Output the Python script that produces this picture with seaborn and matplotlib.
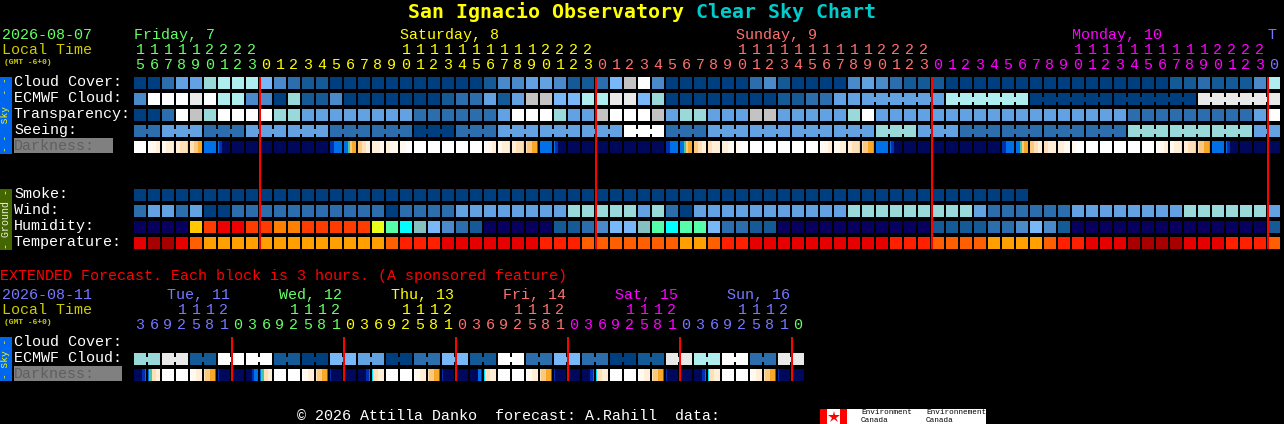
# Clear Sky Chart for San Ignacio Observatory

import seaborn as sns
import matplotlib.pyplot as plt
from matplotlib.colors import ListedColormap
from matplotlib.patches import Rectangle
import numpy as np

# Cell codes, one string per local day (9 + 24 + 24 + 24 + 1 hours)
cloud_cover = ["aaceeghhh", "fdcbbaaaaaaaaaaabddeedbb", "cfikdaaaaaacdbaaaadedcbb", "baaaaaaaaaaaaaaaabbcbbbd", "h"]
ecmwf_cloud = ["dkkkjkhhd", "dagbbdaaaaaaabccebeiiffh", "hjjfgaaaaaaaabbcceeeeeee", "ehhhhhhaaaaaaaaaaaajjjjj", "j"]
transparency = ["aackigkkk", "kggeeeeeeeeccccccekkkgee", "ikkkieggeeeiieeeeegkeeee", "eeeeeeeeeeeeeeccccccccce", "k"]
seeing = ["cceeeccce", "eeeeeccccccaaaccceeeeeee", "eekkkccceeeeeeeeeeeeggge", "eeccccccccccccggggggggge", "e"]
smoke = ["aaaaaaaaa", "aaaaaaaaaaaaaaaaaaaaaaaa", "aaaaaaaaaaaaaaaaaaaaaaaa", "aaaaaaa.................", "."]
wind = ["ceeceaacc", "cccccccccacccceeeeeeeegg", "gggegcaeeeeeeeeeeegggggg", "gggecccccceeeeeeeegggggg", "e"]
humidity = ["nnnnYPRRP", "POOPPPPPVQCtfdcbnnnnnbbc", "dfftQCQQfccbbnnnnnnnnnnn", "bbbbccdfdbnnnnnnnnnnnnnn", "b"]
temperature = ["rDDroAAAA", "AAAAAAAAAosssrrrrrrrssso", "ooooooAAossrrrrrrrrrrsss", "ooooAAAAossrrrDDDDrrrsss", "o"]

# Darkness: six samples across each hour cell
dark_fri = ["WWWWWW", "W11122", "112223", "223334", "334455", "BBBBBB", "BDNNNN", "NNNNNN", "NNNNNN"]
dark_sat = ["NNNNNN", "NNNNNN", "NNNNNN", "NNNNNN", "NNNNNN", "DDBBBB", "BBT455", "443322", "222211", "221111", "111WWW",
            "WWWWWW", "WWWWWW", "WWWWWW", "WWWWWW", "WWWWWW", "W11122", "112223", "223334", "34455B", "BBBBBB", "BDNNNN",
            "NNNNNN", "NNNNNN"]
dark_sun = ["NNNNNN", "NNNNNN", "NNNNNN", "NNNNNN", "NNNNNN", "DDBBBB", "BBT455", "443322", "332222", "222111", "11WWWW",
            "WWWWWW", "WWWWWW", "WWWWWW", "WWWWWW", "WWWWWW", "W11122", "111222", "223334", "34455T", "BBBBBB", "BDNNNN",
            "NNNNNN", "NNNNNN"]
dark_mon = ["NNNNNN", "NNNNNN", "NNNNNN", "NNNNNN", "NNNNNN", "DDBBBB", "BBT455", "443322", "332222", "222111", "11WWWW",
            "WWWWWW", "WWWWWW", "WWWWWW", "WWWWWW", "WWWWWW", "W11122", "112223", "223334", "34455T", "BBBBBB", "BDNNNN",
            "NNNNNN", "NNNNNN"]
dark_tue = ["NNNNNN"]

# Extended forecast, one code per 3 hour block
ext_ecmwf = "ggjjbbkkkkbbaaffeeaaccffbbkkccffccaabbjjhhkkccjj"
ext_darkness = ["NNNNDB", "BT3322", "WWWWWW", "WWWWWW", "W11222", "34455B", "DNNNNN", "NNNNNN",
                "NNNDBB", "BT3322", "WWWWWW", "WWWWWW", "W11222", "34455B", "DNNNNN", "NNNNNN",
                "NNNNDB", "C33222", "WWWWWW", "WWWWWW", "W11222", "34455B", "DNNNNN", "NNNNNN",
                "NNNNBD", "C33222", "WWWWWW", "WWWWWW", "W11222", "34455B", "DNNNNN", "NNNNNN",
                "NNNNDB", "C33222", "WWWWWW", "WWWWWW", "W11222", "34455B", "DNNNNN", "NNNNNN",
                "NNNNDB", "C33222", "WWWWWW", "WWWWWW", "W11222", "34455B", "DNNNNN", "NNNNNN"]

# Hour columns
hours = [15, 16, 17, 18, 19, 20, 21, 22, 23,
         0, 1, 2, 3, 4, 5, 6, 7, 8, 9, 10, 11, 12, 13, 14, 15, 16, 17, 18, 19, 20, 21, 22, 23,
         0, 1, 2, 3, 4, 5, 6, 7, 8, 9, 10, 11, 12, 13, 14, 15, 16, 17, 18, 19, 20, 21, 22, 23,
         0, 1, 2, 3, 4, 5, 6, 7, 8, 9, 10, 11, 12, 13, 14, 15, 16, 17, 18, 19, 20, 21, 22, 23,
         0]
ext_hours = [3, 6, 9, 12, 15, 18, 21, 0, 3, 6, 9, 12, 15, 18, 21, 0, 3, 6, 9, 12, 15, 18, 21, 0,
             3, 6, 9, 12, 15, 18, 21, 0, 3, 6, 9, 12, 15, 18, 21, 0, 3, 6, 9, 12, 15, 18, 21, 0]
day_labels = ["Friday, 7", "Saturday, 8", "Sunday, 9", "Monday, 10", "T"]
ext_day_labels = ["Tue, 11", "Wed, 12", "Thu, 13", "Fri, 14", "Sat, 15", "Sun, 16"]
sky_labels = ["Cloud Cover:", "ECMWF Cloud:", "Transparency:", "Seeing:"]
ground_labels = ["Smoke:", "Wind:", "Humidity:", "Temperature:"]

# Colours
cell_colors = {
    'a': '#003f7f', 'b': '#135a96', 'c': '#2c6dae', 'd': '#4a8aca', 'e': '#63a2e2', 'f': '#78b8f8',
    'g': '#99d9d9', 'h': '#aeeeee', 'i': '#c3c3c3', 'j': '#e9e9e9', 'k': '#ffffff',
    'n': '#08005f', 't': '#84c0c0', 'Q': '#55ffaa', 'C': '#00ffff', 'V': '#e8ff1a', 'Y': '#ffc800',
    'O': '#ff8000', 'P': '#ff3c00', 'R': '#ee0000',
    'D': '#a80000', 'r': '#e60000', 's': '#ff2000', 'o': '#ff5f00', 'A': '#ffa000',
}
dark_colors = {
    'W': '#ffffff', '1': '#fff9f0', '2': '#ffeed8', '3': '#fde0b8', '4': '#fbc880', '5': '#f8a828',
    'T': '#40c8a0', 'C': '#00e0ff', 'B': '#0070e8', 'D': '#0030b0', 'N': '#00085c',
}
GREEN, YELLOW, PINK, MAGENTA, BLUE = '#66ff66', '#ffff00', '#ff7070', '#ff00ff', '#7777ff'
LOCAL = '#cccc00'

W, H = 1284, 424
X0, PITCH = 134, 14

sns.set_theme(style="dark", rc={'figure.facecolor': 'black', 'axes.facecolor': 'black', 'savefig.facecolor': 'black'})
plt.rcParams['font.family'] = 'Liberation Mono'

fig = plt.figure(figsize=(W / 100, H / 100), dpi=100)


def px_axes(x, y, w, h, zorder=1):
    ax = fig.add_axes([x / W, 1 - (y + h) / H, w / W, h / H], zorder=zorder)
    ax.set_axis_off()
    return ax


def lw(pixels):
    return pixels * 72 / 100


def draw_cells(ax, rows, colors):
    """Heatmap of letter codes, '.' stays empty."""
    keys = list(colors)
    codes = np.array([[keys.index(c) if c in colors else np.nan for c in row] for row in rows])
    sns.heatmap(codes, ax=ax, cmap=ListedColormap([colors[k] for k in keys]), vmin=-0.5, vmax=len(keys) - 0.5,
                cbar=False, xticklabels=False, yticklabels=False)
    ax.set_axis_off()


def draw_links(ax, row_pos, codes, blocks, half):
    """Bridge the gap between neighbouring cells of one forecast block."""
    start = 0
    for size in blocks:
        for k in range(start + 1, start + size):
            ax.vlines(k, row_pos - half, row_pos + half, color=cell_colors[codes[k]], lw=lw(2), zorder=5)
        start += size


def label(x, y, s, color='white', size=10.8, **kw):
    kw.setdefault('va', 'center')
    canvas.text(x, y, s, color=color, fontsize=size, **kw)


# Main grid, 16 px per row: 5 sky rows, 2 empty, 4 ground rows
joined = [''.join(r) for r in (cloud_cover, ecmwf_cloud, transparency, seeing)]
blank = '.' * 82
main_rows = joined + [blank, blank, blank] + [''.join(r) for r in (smoke, wind, humidity, temperature)]
main_ax = px_axes(X0 - 1, 75, 82 * PITCH, 11 * 16)
draw_cells(main_ax, main_rows, cell_colors)
main_ax.vlines(range(83), 0, 11, color='black', lw=lw(2), zorder=3)
main_ax.hlines(range(12), 0, 82, color='black', lw=lw(4), zorder=3)

# forecast blocks that are joined across the gaps
seeing_blocks = [2] + [3] * 26 + [2]
ecmwf_blocks = [1] * 52 + [6] * 5
draw_links(main_ax, 1.5, joined[1], ecmwf_blocks, 2.5 / 16)
draw_links(main_ax, 3.5, joined[3], seeing_blocks, 2.5 / 16)

# Darkness rows have a gradient inside each cell
dark_ax = px_axes(X0 - 1, 141, 82 * PITCH, 12)
draw_cells(dark_ax, [''.join(dark_fri + dark_sat + dark_sun + dark_mon + dark_tue)], dark_colors)
dark_ax.vlines(np.arange(83) * 6, 0, 1, color='black', lw=lw(2), zorder=3)

ext_ax = px_axes(X0 - 1, 353, 48 * PITCH, 12)
draw_cells(ext_ax, [ext_ecmwf], cell_colors)
ext_ax.vlines(range(49), 0, 1, color='black', lw=lw(2), zorder=3)
draw_links(ext_ax, 0.5, ext_ecmwf, [2] * 24, 2.5 / 12)

ext_dark_ax = px_axes(X0 - 1, 369, 48 * PITCH, 12)
draw_cells(ext_dark_ax, [''.join(ext_darkness)], dark_colors)
ext_dark_ax.vlines(np.arange(49) * 6, 0, 1, color='black', lw=lw(2), zorder=3)

# Text and decoration go on one pixel canvas above the grids
canvas = px_axes(0, 0, W, H, zorder=10)
canvas.set_xlim(0, W)
canvas.set_ylim(H, 0)
canvas.patch.set_alpha(0)

label(408, 12, "San Ignacio Observatory", YELLOW, 14.35, fontweight='bold', family='DejaVu Sans Mono')
label(696, 12, "Clear Sky Chart", '#00cccc', 14.35, fontweight='bold', family='DejaVu Sans Mono')

# header of the main grid
label(2, 35, "2026-08-07", GREEN)
label(2, 50, "Local Time", LOCAL)
label(4, 62, "(GMT -6+0)", LOCAL, 5.8, fontweight='bold')
day_starts = [0, 9, 33, 57, 81]
day_colors = [GREEN, YELLOW, PINK, MAGENTA, BLUE]
label_cells = [0, 19, 43, 67, 81]
for name, cell, color in zip(day_labels, label_cells, day_colors):
    label(X0 + PITCH * cell, 35, name, color)
for i, hour in enumerate(hours):
    day = np.searchsorted(day_starts, i, side='right') - 1
    cx = X0 + PITCH * i + 6
    if hour >= 10:
        label(cx, 50, str(hour // 10), day_colors[day], ha='center')
    label(cx, 65, str(hour % 10), day_colors[day], ha='center')

for r, text in enumerate(sky_labels):
    label(14, 82 + 16 * r, text)
canvas.add_patch(Rectangle((14, 138), 99, 15, fc='#808080', ec='none'))
label(14, 146, "Darkness:", '#5f5f5f')
for r, text in enumerate(ground_labels):
    label(14, 194 + 16 * r, text)

canvas.add_patch(Rectangle((0, 77), 12, 77, fc='#0066ee', ec='none'))
label(6, 115, "- -  Sky  - -", YELLOW, 6.8, rotation=90, ha='center')
canvas.add_patch(Rectangle((0, 189), 12, 61, fc='#446600', ec='none'))
label(6, 219, "- Ground -", '#f0f0e0', 7.2, rotation=90, ha='center')

# red midnight marks
canvas.vlines([X0 + PITCH * s for s in day_starts[1:]], 77, 249, color='#ff0000', lw=lw(2))

# extended forecast
label(0, 276, "EXTENDED Forecast. Each block is 3 hours. (A sponsored feature)", '#ff0000')
label(2, 295, "2026-08-11", BLUE)
label(2, 310, "Local Time", LOCAL)
label(4, 322, "(GMT -6+0)", LOCAL, 5.8, fontweight='bold')
ext_colors = [BLUE, GREEN, YELLOW, PINK, MAGENTA, BLUE, GREEN]
ext_starts = [0, 7, 15, 23, 31, 39, 47]
for n, name in enumerate(ext_day_labels):
    label(167 + 112 * n, 295, name, ext_colors[n])
for i, hour in enumerate(ext_hours):
    day = np.searchsorted(ext_starts, i, side='right') - 1
    cx = X0 + PITCH * i + 6
    if hour >= 10:
        label(cx, 310, str(hour // 10), ext_colors[day], ha='center')
    label(cx, 325, str(hour % 10), ext_colors[day], ha='center')

label(14, 342, "Cloud Cover:")
label(14, 358, "ECMWF Cloud:")
canvas.add_patch(Rectangle((14, 366), 108, 15, fc='#808080', ec='none'))
label(14, 374, "Darkness:", '#5f5f5f')
canvas.add_patch(Rectangle((0, 337), 12, 44, fc='#0066ee', ec='none'))
label(6, 359, "- Sky -", YELLOW, 6.8, rotation=90, ha='center')
canvas.vlines([X0 + PITCH * s for s in ext_starts[1:]], 337, 381, color='#ff0000', lw=lw(2))

# footer
label(297, 416, "\u00a9 2026 Attilla Danko  forecast: A.Rahill  data:")
canvas.add_patch(Rectangle((820, 409), 166, 15, fc='white', ec='none'))
canvas.add_patch(Rectangle((820, 409), 7, 15, fc='#ff0000', ec='none'))
canvas.add_patch(Rectangle((840, 409), 7, 15, fc='#ff0000', ec='none'))
canvas.plot([833.5], [416.5], marker='*', ms=9, color='#ff0000', mew=0)
for x, word in [(861, "Environment"), (926, "Environnement")]:
    label(x, 413, word, 'black', 5.5)
    label(x, 421, "Canada", 'black', 5.5)

plt.savefig('out.png', dpi=100, facecolor='black')
